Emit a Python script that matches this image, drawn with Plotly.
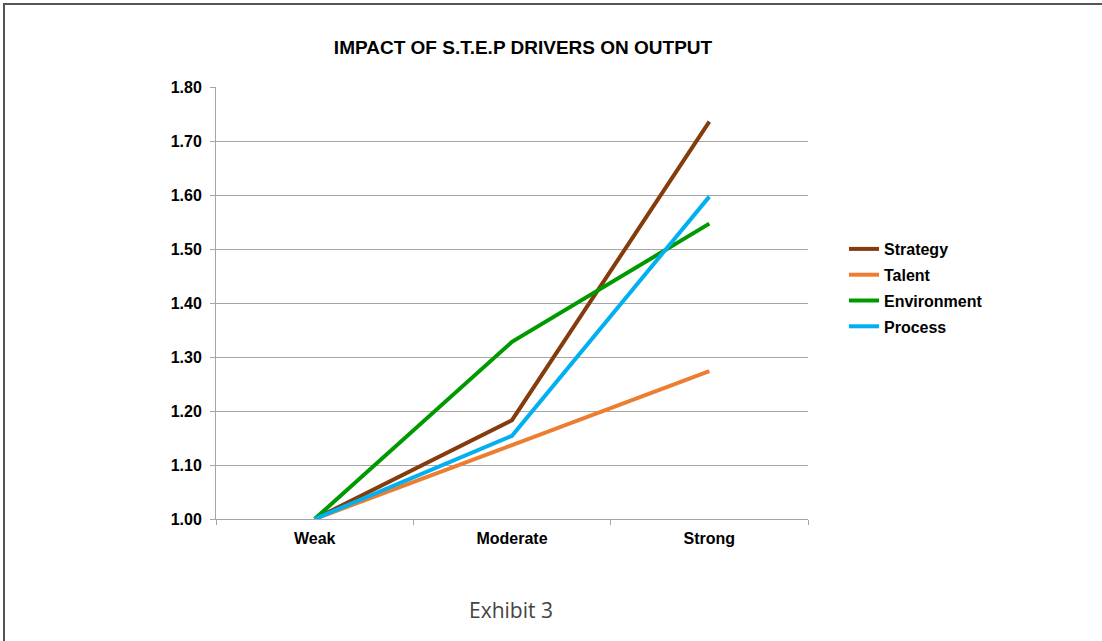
import plotly.graph_objects as go

categories = ["Weak", "Moderate", "Strong"]
strategy = [1.00, 1.183, 1.736]
talent = [1.00, 1.137, 1.274]
environment = [1.00, 1.328, 1.547]
process = [1.00, 1.154, 1.597]

series = [
    ("Strategy", strategy, "#843C0C"),
    ("Talent", talent, "#ED7D31"),
    ("Environment", environment, "#009A00"),
    ("Process", process, "#00B0F0"),
]

fig = go.Figure()
for i, (name, vals, color) in enumerate(series):
    fig.add_trace(go.Scatter(
        x=categories, y=vals, name=name, mode="lines",
        line=dict(color=color, width=4),
        legendgroup=f"g{i}",
    ))

L, R, T, B = 216, 808, 87, 519
W, H = 1102, 641

fig.update_layout(
    width=W, height=H,
    margin=dict(l=L, r=W - R, t=T, b=H - B, autoexpand=False),
    paper_bgcolor="white", plot_bgcolor="white",
    font=dict(family="Arial, Liberation Sans, sans-serif", color="black"),
    title=dict(text="<b>IMPACT OF S.T.E.P DRIVERS ON OUTPUT</b>",
               x=523 / W, xanchor="center", y=1 - 47 / H, yanchor="middle",
               font=dict(size=19, color="black")),
    showlegend=True,
    legend=dict(x=(844 - L) / (R - L), xanchor="left", y=(B - 232) / (B - T), yanchor="top",
                traceorder="grouped", tracegroupgap=2, itemwidth=30,
                font=dict(size=16, color="black", weight="bold"),
                bgcolor="rgba(0,0,0,0)"),
    xaxis=dict(type="category", range=[-0.5, 2.5], showgrid=False,
               showline=True, linecolor="#A6A6A6", linewidth=1,
               ticks="outside", tickson="boundaries", ticklen=5, tickcolor="#A6A6A6",
               ticklabelstandoff=5,
               tickfont=dict(size=16, color="black", weight="bold"), zeroline=False),
    yaxis=dict(range=[1.0, 1.8], dtick=0.1, tickformat=".2f",
               showgrid=True, gridcolor="#A6A6A6", gridwidth=1,
               showline=True, linecolor="#A6A6A6", linewidth=1,
               ticks="outside", ticklen=5, tickcolor="#A6A6A6",
               ticklabelstandoff=5,
               tickfont=dict(size=16, color="black", weight="bold"), zeroline=False),
)

# outer frame (left and top edges visible)
px = lambda v: (v - L) / (R - L)
py = lambda v: (B - v) / (B - T)
fig.add_shape(type="line", xref="paper", yref="paper",
              x0=px(4), x1=px(4), y0=py(3), y1=py(660),
              line=dict(color="#555555", width=2))
fig.add_shape(type="line", xref="paper", yref="paper",
              x0=px(3), x1=px(1120), y0=py(4), y1=py(4),
              line=dict(color="#555555", width=2))

fig.add_annotation(text="Exhibit 3", xref="paper", yref="paper",
                   x=px(511), y=py(610), xanchor="center", yanchor="middle",
                   showarrow=False,
                   font=dict(family="Open Sans", size=21, color="#444444"))

fig.write_html("out.html", config={"displayModeBar": False},
               post_script="document.body.style.margin='0';")
